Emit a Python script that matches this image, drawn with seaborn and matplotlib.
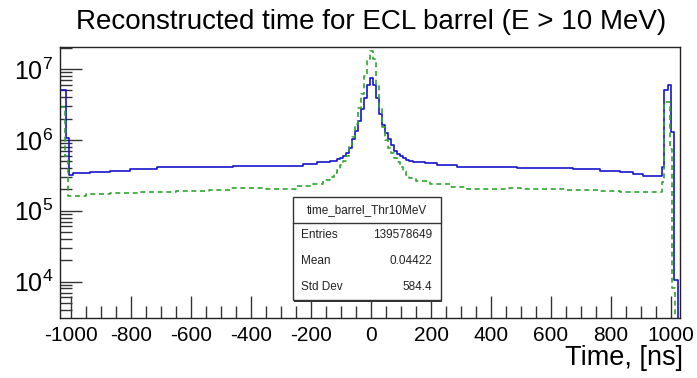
import numpy as np
import pandas as pd
import matplotlib
matplotlib.use("Agg")
import matplotlib.pyplot as plt
from matplotlib.ticker import FixedLocator, LogFormatterMathtext, NullFormatter
from matplotlib.patches import Rectangle
import seaborn as sns

# ---------------- data ----------------
title = "Reconstructed time for ECL barrel (E > 10 MeV)"
x_label = "Time, [ns]"
x_ticks = [-1000, -800, -600, -400, -200, 0, 200, 400, 600, 800, 1000]
y_ticks = [1e4, 1e5, 1e6, 1e7]

peak_edges = [-125, -115, -105, -95, -85, -75, -65, -55, -45, -35, -25, -15, -5,
              5, 15, 25, 35, 45, 55, 65, 75, 85, 95, 105, 115, 125]

# blue solid histogram
blue_left_edges = [-1037, -1017, -1006, -993, -937, -870, -803, -714, -460, -227, -181, -137]
blue_left_vals = [5.1e6, 1.07e6, 3.19e5, 3.37e5, 3.5e5, 3.66e5, 3.87e5, 4.09e5, 4.3e5, 4.55e5, 4.81e5, 5.0e5]
blue_peak_vals = [5.1e5, 5.3e5, 5.6e5, 6.0e5, 6.6e5, 7.8e5, 1.02e6, 1.35e6, 1.84e6, 2.69e6, 3.9e6, 6.0e6,
                  7.5e6, 6.0e6, 3.9e6, 2.3e6, 1.6e6, 1.25e6, 1.02e6, 8.4e5, 7.0e5, 6.4e5, 6.0e5, 5.5e5, 5.2e5]
blue_right_edges = [140, 180, 219, 286, 486, 673, 763, 830, 873, 907, 969, 975, 989, 1001, 1009, 1024, 1030]
blue_right_vals = [5.0e5, 4.9e5, 4.7e5, 4.45e5, 4.2e5, 4.0e5, 3.87e5, 3.66e5, 3.48e5, 3.3e5, 3.1e5,
                   4.13e5, 5.1e6, 6.0e6, 1.28e6, 1.04e4, 1.0]

# green dashed histogram
green_left_edges = [-1037, -1020, -1011, -950, -870, -770, -650, -540, -470, -350, -250, -200, -160, -137]
green_left_vals = [2.95e6, 6.0e5, 1.63e5, 1.7e5, 1.77e5, 1.83e5, 1.9e5, 1.95e5, 2.12e5, 2.05e5, 2.2e5,
                   2.4e5, 2.7e5, 3.0e5]
green_peak_vals = [3.4e5, 3.8e5, 4.4e5, 5.0e5, 6.0e5, 8.0e5, 1.1e6, 1.7e6, 2.8e6, 4.5e6, 8.0e6, 1.4e7,
                   1.82e7, 1.4e7, 6.0e6, 2.8e6, 1.5e6, 1.0e6, 7.8e5, 6.5e5, 5.6e5, 4.8e5, 4.2e5, 3.6e5, 3.2e5]
green_right_edges = [150, 197, 263, 319, 460, 500, 650, 763, 830, 969, 975, 997, 1003, 1013, 1030]
green_right_vals = [2.9e5, 2.6e5, 2.35e5, 2.15e5, 2.0e5, 2.1e5, 2.0e5, 1.97e5, 1.9e5, 1.83e5,
                    2.54e5, 3.4e6, 7.4e5, 8.0e3, 1.0]

stats_title = "time_barrel_Thr10MeV"
stats_names = ["Entries", "Mean", "Std Dev"]
stats_values = ["139578649", "0.04422", "584.4"]

# ---------------- build ----------------
blue_edges = [float(e) for e in blue_left_edges + peak_edges + blue_right_edges]
blue_vals = blue_left_vals + blue_peak_vals + blue_right_vals
green_edges = [float(e) for e in green_left_edges + peak_edges + green_right_edges]
green_vals = green_left_vals + green_peak_vals + green_right_vals

def frame(edges, vals):
    e = np.asarray(edges)
    return pd.DataFrame({"t": (e[:-1] + e[1:]) / 2, "w": np.asarray(vals, dtype=float)})

df_blue = frame(blue_edges, blue_vals)
df_green = frame(green_edges, green_vals)

sns.set_style("ticks")
plt.rcParams["font.family"] = ["Liberation Sans", "DejaVu Sans"]
plt.rcParams["mathtext.fontset"] = "custom"
plt.rcParams["mathtext.rm"] = "Liberation Sans"
plt.rcParams["mathtext.it"] = "Liberation Sans:italic"
plt.rcParams["mathtext.bf"] = "Liberation Sans:bold"
plt.rcParams["axes.unicode_minus"] = False
plt.rcParams["text.color"] = "black"
plt.rcParams["xtick.labelcolor"] = "black"
plt.rcParams["ytick.labelcolor"] = "black"

W, H = 697, 378
fig = plt.figure(figsize=(W / 100, H / 100), dpi=100)
ax = fig.add_axes([60 / W, 1 - 318 / H, (680 - 60) / W, (318 - 47) / H])

blue_c = "#1515cc"
green_c = "#2ea62e"

sns.histplot(data=df_blue, x="t", weights="w", bins=blue_edges,
             element="step", fill=False, color=blue_c, linewidth=1.2, ax=ax)
sns.histplot(data=df_green, x="t", weights="w", bins=green_edges,
             element="step", fill=False, color=green_c, linewidth=1.2, ax=ax,
             linestyle=(0, (3.0, 2.2)))

ax.set_yscale("log")
ax.set_xlim(-1037, 1030)
ax.set_ylim(3060, 2.05e7)
ax.set_xlabel("")
ax.set_ylabel("")

ax.xaxis.set_major_locator(FixedLocator(x_ticks))
ax.xaxis.set_minor_locator(FixedLocator(np.arange(-1000, 1001, 50)))
ax.yaxis.set_major_locator(FixedLocator(y_ticks))
minors = [m * d for d in [1e3, 1e4, 1e5, 1e6, 1e7] for m in range(2, 10)]
ax.yaxis.set_minor_locator(FixedLocator(minors))
ax.yaxis.set_major_formatter(LogFormatterMathtext())
ax.yaxis.set_minor_formatter(NullFormatter())

ax.tick_params(axis="both", which="major", direction="in", length=16, width=1.0, color="#333333",
               labelcolor="black")
ax.tick_params(axis="both", which="minor", direction="in", length=8.5, width=1.0, color="#333333")
ax.tick_params(axis="x", which="major", labelsize=15, pad=6)
ax.tick_params(axis="y", which="major", labelsize=18, pad=5)
for s in ax.spines.values():
    s.set_linewidth(1.0)
    s.set_color("#222222")
    s.set_visible(True)

fig.text(371 / W, 1 - 22 / H, title, ha="center", va="center", fontsize=20, color="black")
fig.text(683 / W, 1 - 358 / H, x_label, ha="right", va="center", fontsize=19.5, color="black")

# stats box
bx0, bx1, by0, by1, bsep = 292.7, 440.7, 197.3, 300.0, 223.3
def fx(px):
    return px / W
def fy(py):
    return 1 - py / H
fig.patches.append(Rectangle((fx(bx0 + 1.5), fy(by1 + 1.5)), (bx1 - bx0) / W, (by1 - by0) / H,
                             transform=fig.transFigure, facecolor="#333333", edgecolor="none", zorder=5))
fig.patches.append(Rectangle((fx(bx0), fy(by1)), (bx1 - bx0) / W, (by1 - by0) / H,
                             transform=fig.transFigure, facecolor="white", edgecolor="#333333",
                             linewidth=1.0, zorder=6))
fig.lines.append(plt.Line2D([fx(bx0), fx(bx1)], [fy(bsep), fy(bsep)], transform=fig.transFigure,
                            color="#333333", linewidth=1.0, zorder=7))
fig.text(fx((bx0 + bx1) / 2), fy(210), stats_title, ha="center", va="center", fontsize=8.5,
         color="#222222", zorder=8)
rows_y = [235, 261, 286.7]
for name, val, ry in zip(stats_names, stats_values, rows_y):
    fig.text(fx(300.7), fy(ry), name, ha="left", va="center", fontsize=8.5, color="#222222", zorder=8)
    fig.text(fx(432.3), fy(ry), val, ha="right", va="center", fontsize=8.5, color="#222222", zorder=8)

fig.savefig("out.png", dpi=100, facecolor="white")
